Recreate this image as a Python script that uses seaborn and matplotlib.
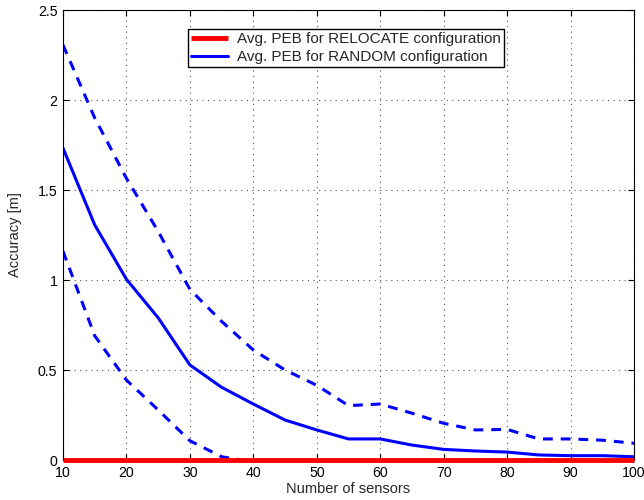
import numpy as np
import pandas as pd
import matplotlib
matplotlib.use("Agg")
import matplotlib.pyplot as plt
import seaborn as sns

sensors = [10, 15, 20, 25, 30, 35, 40, 45, 50, 55, 60, 65, 70, 75, 80, 85, 90, 95, 100]
relocate_peb = [0.0] * len(sensors)
random_mean = [1.733, 1.306, 1.004, 0.79, 0.528, 0.404, 0.311, 0.222, 0.167, 0.117, 0.117,
               0.083, 0.059, 0.05, 0.044, 0.028, 0.024, 0.024, 0.018]
random_upper = [2.306, 1.9, 1.565, 1.27, 0.948, 0.77, 0.611, 0.5, 0.415, 0.302, 0.311,
                0.26, 0.204, 0.167, 0.17, 0.117, 0.117, 0.11, 0.093]
lower_sensors = [10, 15, 20, 25, 30, 35, 40]
random_lower = [1.16, 0.69, 0.444, 0.278, 0.107, 0.018, -0.01]

sns.set_style("white")
plt.rcParams['font.family'] = ['Liberation Sans', 'DejaVu Sans']

fig = plt.figure(figsize=(6.44, 5.0), dpi=100)
ax = fig.add_axes([63/644, 40/500, 571/644, 450/500])

df_main = pd.DataFrame({"x": sensors, "reloc": relocate_peb, "mean": random_mean, "up": random_upper})
df_low = pd.DataFrame({"x": lower_sensors, "low": random_lower})

sns.lineplot(data=df_main, x="x", y="up", ax=ax, color="#0000ff", lw=2.2,
             linestyle=(0, (3.2, 2.6)), legend=False)
sns.lineplot(data=df_low, x="x", y="low", ax=ax, color="#0000ff", lw=2.2,
             linestyle=(0, (3.2, 2.6)), legend=False)
sns.lineplot(data=df_main, x="x", y="mean", ax=ax, color="#0000ff", lw=2.2,
             label="Avg. PEB for RANDOM configuration")
sns.lineplot(data=df_main, x="x", y="reloc", ax=ax, color="#ff0000", lw=3.5,
             label="Avg. PEB for RELOCATE configuration", clip_on=False, zorder=5,
             solid_capstyle="butt")

ax.set_xlim(10, 100)
ax.set_ylim(0, 2.5)
ax.set_xticks(range(10, 101, 10))
ax.set_yticks([0, 0.5, 1, 1.5, 2, 2.5])
ax.set_yticklabels(["0", "0.5", "1", "1.5", "2", "2.5"])
ax.grid(True, linestyle=(0, (1, 4)), color="#555555", linewidth=0.8)
ax.tick_params(direction="in", length=4, width=0.8, labelsize=10.2, colors="black",
               top=True, right=True, bottom=True, left=True, pad=4)
for s in ax.spines.values():
    s.set_color("black")
    s.set_linewidth(0.8)
ax.set_xlabel("Number of sensors", fontsize=10.5, labelpad=2)
ax.set_ylabel("Accuracy [m]", fontsize=10.5, labelpad=11)

h, l = ax.get_legend_handles_labels()
order = [l.index("Avg. PEB for RELOCATE configuration"), l.index("Avg. PEB for RANDOM configuration")]
leg = ax.legend([h[i] for i in order], [l[i] for i in order], loc="upper left",
                bbox_to_anchor=(0.219, 0.958), borderaxespad=0, fontsize=11,
                fancybox=False, framealpha=1, edgecolor="black", handlelength=2.4,
                handletextpad=0.6, borderpad=0.22, labelspacing=0.25)
leg.get_frame().set_linewidth(1.0)

fig.savefig("out.png", dpi=100)
